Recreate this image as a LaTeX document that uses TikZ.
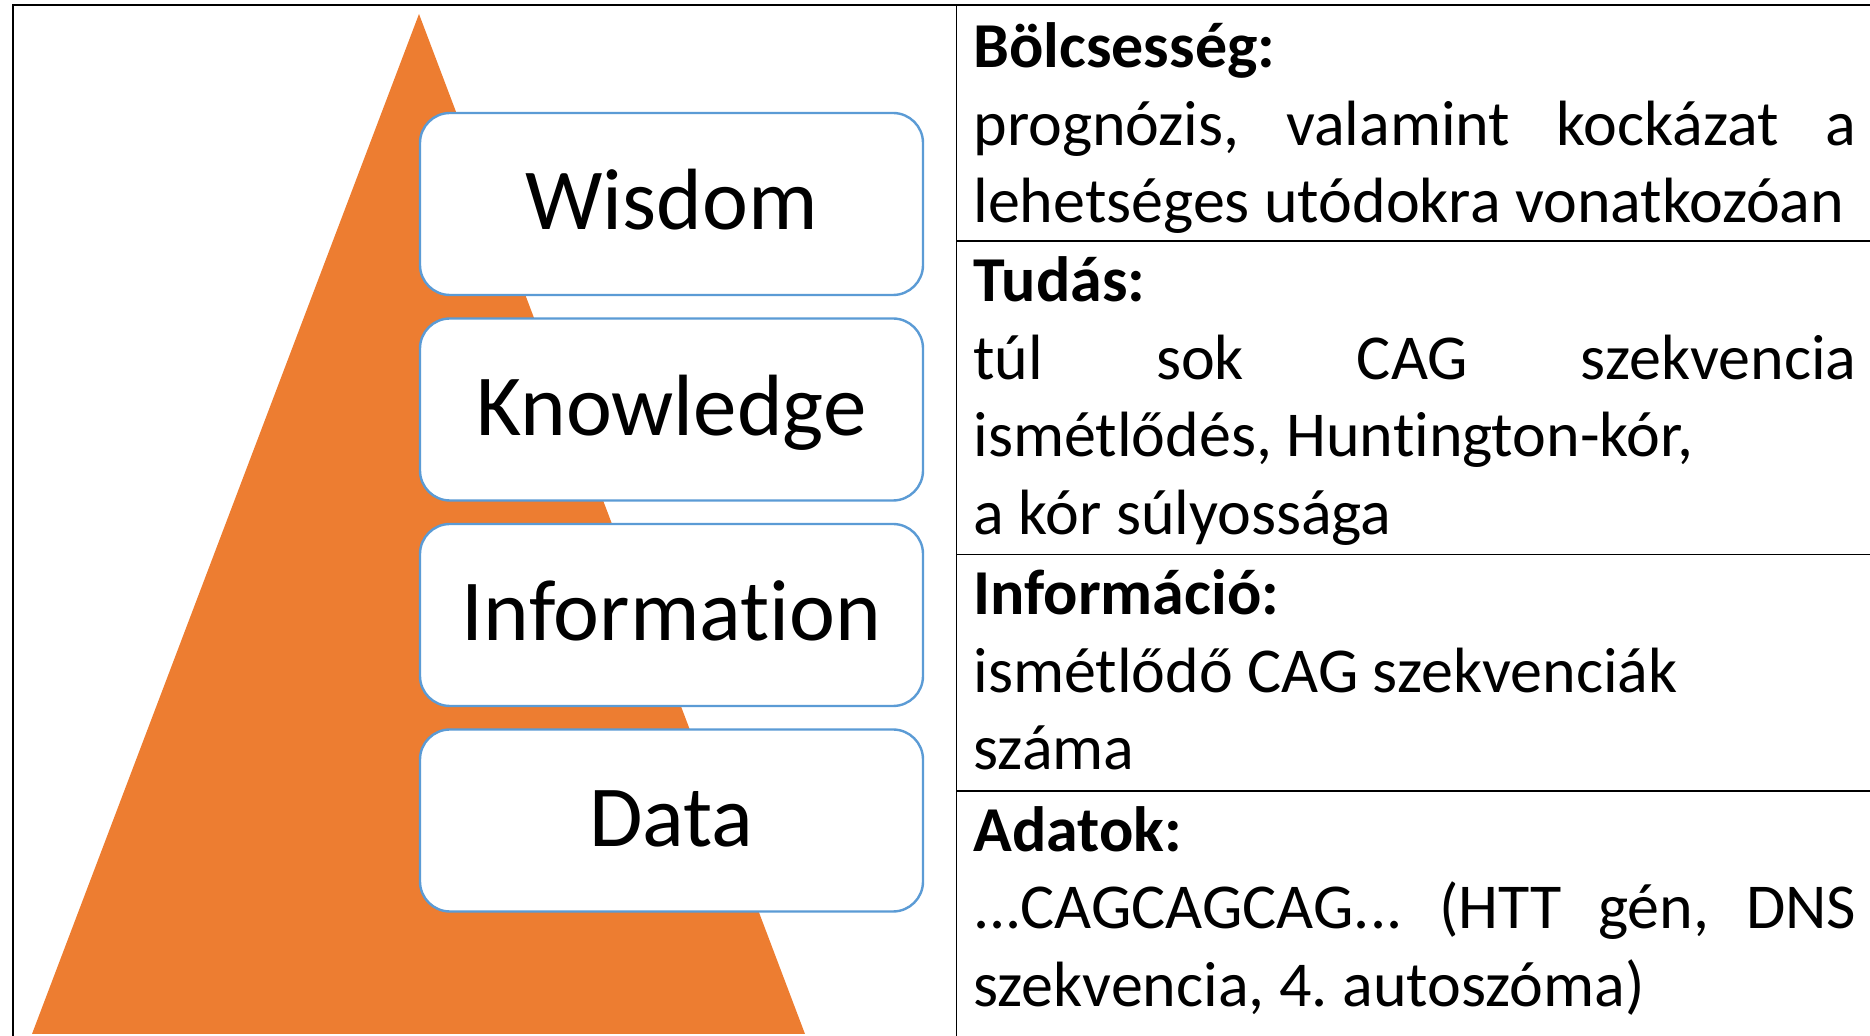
\documentclass[tikz,border=0pt]{standalone}
\usepackage{fontspec}
\setmainfont{Carlito}[Ligatures={NoCommon,NoContextual}]
\frenchspacing

\definecolor{dikwOrange}{HTML}{ED7D31}
\definecolor{dikwBlue}{HTML}{5B9BD5}

\begin{document}
\begin{tikzpicture}[
  x=0.5pt, y=-0.5pt,
  level/.style={rounded corners=15pt, draw=dikwBlue, fill=white,
                line width=1.2pt, minimum width=251.5pt, minimum height=91pt,
                font=\fontsize{43.5}{52}\selectfont,
                text height=30pt, text depth=4pt},
  cell/.style={anchor=base west, text width=441.5pt, align=justify,
               inner sep=0pt, font=\fontsize{32}{38.75}\selectfont},
  tabline/.style={line width=0.9pt}
]
  \useasboundingbox (0,0) rectangle (1870,1036);

  % ---- pyramid ----
  \fill[dikwOrange] (419,14) -- (805,1034) -- (32,1034) -- cycle;

  % ---- levels (top to bottom) ----
  \node[level] (wisdom)    at (671.5,204)   {Wisdom};
  \node[level] (knowledge) at (671.5,409.5) {Knowledge};
  \node[level] (info)      at (671.5,615)   {Information};
  \node[level] (data)      at (671.5,820.5) {Data};

  % ---- table frame ----
  \draw[tabline] (13,1036) -- (13,5) -- (1870,5);
  \draw[tabline] (956.5,5) -- (956.5,1036);
  \draw[tabline] (956.5,241) -- (1870,241);
  \draw[tabline] (956.5,554.5) -- (1870,554.5);
  \draw[tabline] (956.5,790.7) -- (1870,790.7);

  % ---- table cells ----
  \node[cell] (bolcs) at (973,68)
        {\textbf{Bölcsesség:}\\
         prognózis, valamint kockázat a\linebreak
         lehetséges utódokra vonatkozóan};
  \node[cell] (tudas) at (973,302)
        {\textbf{Tudás:}\\
         túl sok CAG szekvencia\linebreak
         ismétlődés, Huntington-kór,\\
         a kór súlyossága};
  \node[cell] (inform) at (973,615)
        {\textbf{Információ:}\\
         ismétlődő CAG szekvenciák\\
         száma};
  \node[cell] (adatok) at (973,851.5)
        {\textbf{Adatok:}\\
         ...CAGCAGCAG... (HTT gén, DNS\linebreak
         szekvencia, 4. autoszóma)};
\end{tikzpicture}
\end{document}
